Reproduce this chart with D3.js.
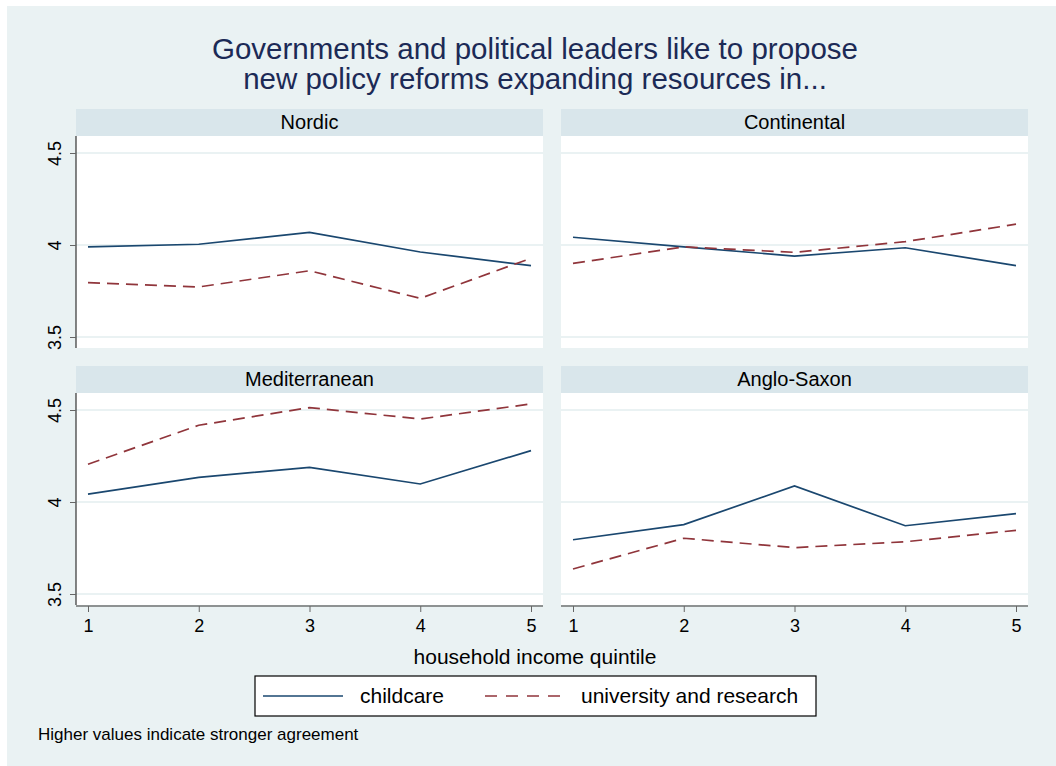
<!DOCTYPE html>
<html><head><meta charset="utf-8">
<script src="https://cdn.jsdelivr.net/npm/d3@7"></script>
<style>body{margin:0;background:#fff}svg{display:block;font-family:"Liberation Sans",Arial,sans-serif}</style>
</head><body>
<svg id="chart" width="1056" height="766"></svg>
<script>
const quintiles = [1, 2, 3, 4, 5];
const regions = ["Nordic", "Continental", "Mediterranean", "Anglo-Saxon"];
const seriesNames = ["childcare", "university and research"];
const childcare = {
  "Nordic":        [3.99, 4.004, 4.069, 3.962, 3.888],
  "Continental":   [4.042, 3.99, 3.94, 3.985, 3.888],
  "Mediterranean": [4.043, 4.134, 4.188, 4.098, 4.279],
  "Anglo-Saxon":   [3.795, 3.877, 4.087, 3.871, 3.937]
};
const university = {
  "Nordic":        [3.795, 3.772, 3.86, 3.71, 3.928],
  "Continental":   [3.90, 3.99, 3.96, 4.018, 4.113],
  "Mediterranean": [4.205, 4.417, 4.513, 4.451, 4.533],
  "Anglo-Saxon":   [3.636, 3.803, 3.752, 3.784, 3.846]
};
const yTicks = [3.5, 4, 4.5];
const titleLines = ["Governments and political leaders like to propose", "new policy reforms expanding resources in..."];
const xTitle = "household income quintile";
const caption = "Higher values indicate stronger agreement";

const svg = d3.select("#chart");
const BLUE = "#1a476f", RED = "#90353b";
const BG = "#eaf2f3", STRIP = "#d9e6eb", GRID = "#eaf2f3";

svg.append("rect").attr("x", 7).attr("y", 6).attr("width", 1049).attr("height", 760).attr("fill", BG);

// title
svg.append("g").selectAll("text").data(titleLines).join("text")
  .attr("x", 535).attr("y", (d, i) => 59 + i * 30)
  .attr("text-anchor", "middle").attr("font-size", 29.5).attr("fill", "#1c2a56").text(d => d);

const colX = [76, 561], rowY = [109, 366];
const panelW = 467, stripH = 27, plotH = 212;

regions.forEach((reg, idx) => {
  const col = idx % 2, row = Math.floor(idx / 2);
  const x0 = colX[col], sy = rowY[row], py = sy + stripH;
  const g = svg.append("g");
  const x = d3.scaleLinear().domain([1, 5]).range([x0 + 12, x0 + 455]);
  const y = d3.scaleLinear().domain([4 - (plotH - 109) / 184, 4 + 109 / 184]).range([py + plotH, py]);

  g.append("rect").attr("x", x0).attr("y", sy).attr("width", panelW).attr("height", stripH).attr("fill", STRIP);
  g.append("text").attr("x", x0 + panelW / 2).attr("y", sy + 20).attr("text-anchor", "middle")
    .attr("font-size", 20).attr("fill", "#000").text(reg);
  g.append("rect").attr("x", x0).attr("y", py).attr("width", panelW).attr("height", plotH).attr("fill", "#fff");

  g.append("g").selectAll("line").data(yTicks).join("line")
    .attr("x1", x0).attr("x2", x0 + panelW).attr("y1", d => y(d)).attr("y2", d => y(d))
    .attr("stroke", GRID).attr("stroke-width", 2);

  if (col === 0) {
    const ya = g.append("g").attr("transform", `translate(${x0},0)`)
      .call(d3.axisLeft(y).tickValues(yTicks).tickFormat(d3.format("")).tickSize(6).tickPadding(4));
    ya.select(".domain").attr("d", `M0,${py}V${py + plotH}`).attr("stroke", "#333").attr("stroke-width", 1.2);
    ya.selectAll(".tick line").attr("stroke", "#666");
    ya.selectAll(".tick text").attr("font-size", 18).attr("fill", "#000").attr("font-family", "Liberation Sans, Arial, sans-serif")
      .attr("text-anchor", "middle").attr("dy", null)
      .attr("transform", "translate(-21,0) rotate(-90)")
      .attr("x", 0).attr("y", 6);
  }
  if (row === 1) {
    const xa = g.append("g").attr("transform", `translate(0,${py + plotH + 1})`)
      .call(d3.axisBottom(x).tickValues(quintiles).tickFormat(d3.format("d")).tickSize(6).tickPadding(7));
    xa.select(".domain").attr("d", `M${x0},0H${x0 + panelW}`).attr("stroke", "#333").attr("stroke-width", 1.2);
    xa.selectAll(".tick line").attr("stroke", "#666");
    xa.selectAll(".tick text").attr("font-size", 18).attr("fill", "#000").attr("font-family", "Liberation Sans, Arial, sans-serif");
  }

  const line = d3.line().x((d, i) => x(quintiles[i])).y(d => y(d));
  g.append("path").datum(childcare[reg]).attr("d", line).attr("fill", "none").attr("stroke", BLUE).attr("stroke-width", 1.7);
  g.append("path").datum(university[reg]).attr("d", line).attr("fill", "none").attr("stroke", RED).attr("stroke-width", 1.7)
    .attr("stroke-dasharray", "12,7");
});

svg.append("text").attr("x", 535).attr("y", 664).attr("text-anchor", "middle").attr("font-size", 21).attr("fill", "#000").text(xTitle);

// legend
const lg = svg.append("g");
lg.append("rect").attr("x", 255).attr("y", 676).attr("width", 561).attr("height", 40).attr("fill", "#fff").attr("stroke", "#000").attr("stroke-width", 1.2);
const legendItems = [
  {name: seriesNames[0], color: BLUE, dash: null, lx: 263, tx: 360},
  {name: seriesNames[1], color: RED, dash: "12,9", lx: 485, tx: 581}
];
legendItems.forEach(it => {
  lg.append("line").attr("x1", it.lx).attr("x2", it.lx + 80).attr("y1", 696).attr("y2", 696)
    .attr("stroke", it.color).attr("stroke-width", 1.7).attr("stroke-dasharray", it.dash);
  lg.append("text").attr("x", it.tx).attr("y", 703).attr("font-size", 21).attr("fill", "#000").text(it.name);
});

svg.append("text").attr("x", 38).attr("y", 740).attr("font-size", 17).attr("fill", "#000").text(caption);
</script>
</body></html>
